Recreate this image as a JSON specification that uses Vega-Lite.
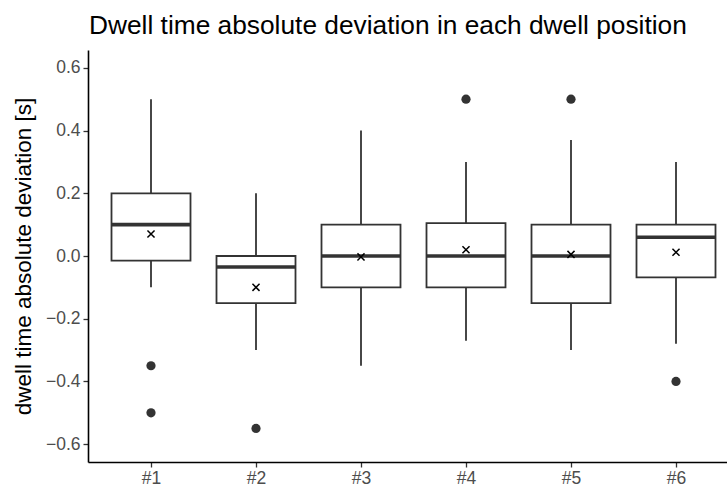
{
  "$schema": "https://vega.github.io/schema/vega-lite/v6.json",
  "width": 639,
  "height": 412,
  "autosize": {"type": "none"},
  "padding": {"left": 88, "top": 50, "right": 0, "bottom": 27},
  "background": "white",
  "title": {
    "text": "Dwell time absolute deviation in each dwell position",
    "anchor": "start",
    "frame": "group",
    "fontSize": 26.3,
    "font": "Liberation Sans",
    "fontWeight": "normal",
    "color": "black",
    "offset": 11,
    "dx": 1
  },
  "datasets": {
    "stats": [
      {"pos": 1, "lo": -0.1, "q1": -0.015, "med": 0.1, "q3": 0.2, "hi": 0.5, "mean": 0.07},
      {"pos": 2, "lo": -0.3, "q1": -0.15, "med": -0.035, "q3": 0.0, "hi": 0.2, "mean": -0.1},
      {"pos": 3, "lo": -0.35, "q1": -0.1, "med": 0.0, "q3": 0.1, "hi": 0.4, "mean": -0.003},
      {"pos": 4, "lo": -0.27, "q1": -0.1, "med": 0.0, "q3": 0.105, "hi": 0.3, "mean": 0.02},
      {"pos": 5, "lo": -0.3, "q1": -0.15, "med": 0.0, "q3": 0.1, "hi": 0.37, "mean": 0.005},
      {"pos": 6, "lo": -0.28, "q1": -0.068, "med": 0.06, "q3": 0.1, "hi": 0.3, "mean": 0.012}
    ],
    "outliers": [
      {"pos": 1, "value": -0.35},
      {"pos": 1, "value": -0.5},
      {"pos": 2, "value": -0.55},
      {"pos": 4, "value": 0.5},
      {"pos": 5, "value": 0.5},
      {"pos": 6, "value": -0.4}
    ]
  },
  "encoding": {
    "x": {
      "field": "pos",
      "type": "quantitative",
      "scale": {"domain": [0.4, 6.4857], "nice": false, "zero": false, "padding": 0},
      "axis": {
        "values": [1, 2, 3, 4, 5, 6],
        "labelExpr": "'#' + datum.value",
        "title": null,
        "grid": false,
        "domainColor": "black",
        "domainWidth": 1.6,
        "tickColor": "#333333",
        "tickWidth": 1.3,
        "tickSize": 5,
        "labelColor": "#4d4d4d",
        "labelFontSize": 17.5,
        "labelFont": "Liberation Sans",
        "labelPadding": 2
      }
    }
  },
  "layer": [
    {
      "data": {"name": "stats"},
      "mark": {"type": "rule", "stroke": "#333333", "strokeWidth": 1.8},
      "encoding": {
        "y": {
          "field": "lo",
          "type": "quantitative",
          "scale": {"domain": [-0.657, 0.657], "nice": false, "zero": false, "padding": 0},
          "axis": {
            "values": [-0.6, -0.4, -0.2, 0.0, 0.2, 0.4, 0.6],
            "format": ".1f",
            "title": "dwell time absolute deviation [s]",
            "titleFontSize": 22.5,
            "titleFont": "Liberation Sans",
            "titleFontWeight": "normal",
            "titleColor": "black",
            "titlePadding": 10,
            "grid": false,
            "domainColor": "black",
            "domainWidth": 1.6,
            "tickColor": "#333333",
            "tickWidth": 1.3,
            "tickSize": 5,
            "labelColor": "#4d4d4d",
            "labelFontSize": 17.5,
            "labelFont": "Liberation Sans",
            "labelPadding": 3
          }
        },
        "y2": {"field": "hi"}
      }
    },
    {
      "data": {"name": "stats"},
      "mark": {"type": "bar", "orient": "vertical", "width": 79, "fill": "white", "stroke": "#333333", "strokeWidth": 1.8},
      "encoding": {
        "y": {"field": "q1", "type": "quantitative"},
        "y2": {"field": "q3"}
      }
    },
    {
      "data": {"name": "stats"},
      "mark": {"type": "tick", "orient": "horizontal", "size": 79, "thickness": 3.6, "color": "#333333", "opacity": 1},
      "encoding": {
        "y": {"field": "med", "type": "quantitative"}
      }
    },
    {
      "data": {"name": "stats"},
      "mark": {"type": "point", "shape": "M-1,-1L1,1M1,-1L-1,1", "size": 50, "filled": false, "stroke": "black", "strokeWidth": 1.5, "opacity": 1},
      "encoding": {
        "y": {"field": "mean", "type": "quantitative"}
      }
    },
    {
      "data": {"name": "outliers"},
      "mark": {"type": "circle", "size": 85, "color": "#333333", "opacity": 1},
      "encoding": {
        "y": {"field": "value", "type": "quantitative"}
      }
    },
    {
      "data": {"values": [{}]},
      "mark": {"type": "rule", "stroke": "black", "strokeWidth": 1.6},
      "encoding": {
        "y": {"datum": 0.657, "type": "quantitative"}
      }
    }
  ],
  "config": {
    "view": {"stroke": null},
    "font": "Liberation Sans"
  }
}
